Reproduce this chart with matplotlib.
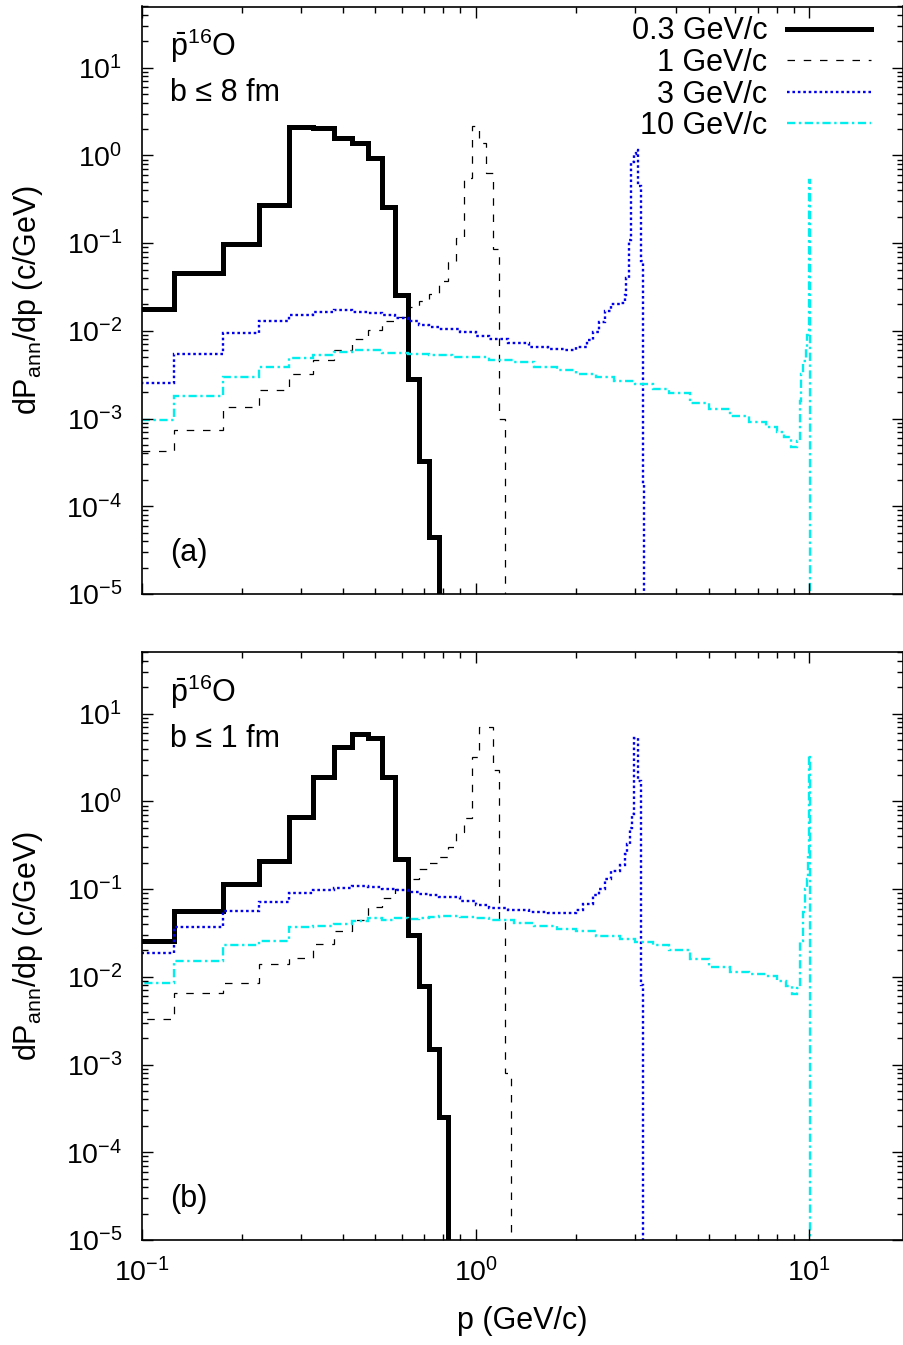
import matplotlib
matplotlib.use("Agg")
import matplotlib.pyplot as plt
from matplotlib.ticker import LogLocator, LogFormatterSciNotation, NullFormatter

plt.rcParams['font.family'] = ['Liberation Sans', 'DejaVu Sans']
plt.rcParams['mathtext.fontset'] = 'custom'
plt.rcParams['mathtext.rm'] = 'Liberation Sans'
plt.rcParams['mathtext.it'] = 'Liberation Sans:italic'
plt.rcParams['mathtext.bf'] = 'Liberation Sans:bold'
plt.rcParams['axes.unicode_minus'] = False

# bin edges (GeV/c), 0.05 wide at low p
edges_fine = [0.075, 0.125, 0.175, 0.225, 0.275, 0.325, 0.375, 0.425, 0.475,
              0.525, 0.575, 0.625, 0.675, 0.725, 0.775, 0.825, 0.875, 0.925,
              0.975, 1.025, 1.075, 1.125, 1.175, 1.225, 1.275]

# ---- panel (a): b <= 8 fm ----
a_p03 = [0.018, 0.046, 0.098, 0.27, 2.1, 2.05, 1.6, 1.4, 0.93, 0.26,
         0.026, 0.0028, 3.3e-4, 4.5e-5]
a_p1 = [4.3e-4, 7.5e-4, 1.37e-3, 2.1e-3, 3.2e-3, 4.6e-3, 6.0e-3, 8.1e-3,
        0.0103, 0.0128, 0.0144, 0.0185, 0.022, 0.0265, 0.037, 0.061, 0.115,
        0.56, 2.15, 1.4, 0.63, 0.085, 1.0e-3]
a_p3_low = [2.58e-3, 5.5e-3, 9.4e-3, 0.0128, 0.015, 0.0166, 0.0172, 0.0166,
            0.0159, 0.0152, 0.0142, 0.013, 0.0117, 0.0112]
a_p3_hi_edges = [0.9, 1.0, 1.1, 1.25, 1.45, 1.65, 1.85, 2.0, 2.15, 2.25, 2.35,
                 2.45, 2.55, 2.7, 2.8, 2.825, 2.875, 2.925, 2.975, 3.025,
                 3.075, 3.125, 3.175, 3.2]
a_p3_hi = [0.0105, 9.6e-3, 8.8e-3, 8.0e-3, 7.3e-3, 6.6e-3, 6.2e-3, 6.1e-3,
           6.5e-3, 7.9e-3, 9.8e-3, 0.0125, 0.017, 0.020, 0.021, 0.026, 0.040,
           0.11, 0.85, 1.05, 1.16, 0.45, 0.062, 1.8e-4]
a_p10_low = [9.7e-4, 1.82e-3, 2.96e-3, 3.92e-3, 4.88e-3, 5.3e-3, 5.7e-3,
             6.0e-3, 6.0e-3, 5.6e-3, 5.6e-3, 5.5e-3, 5.4e-3, 5.35e-3]
a_p10_hi_edges = [0.85, 0.95, 1.1, 1.3, 1.5, 1.75, 2.0, 2.3, 2.6, 3.0, 3.4,
                  3.8, 4.4, 5.0, 5.8, 6.6, 7.4, 8.0, 8.4, 8.8, 9.2, 9.35,
                  9.45, 9.6, 9.75, 9.875, 9.975, 10.025]
a_p10_hi = [5.3e-3, 5.1e-3, 5.0e-3, 4.7e-3, 4.4e-3, 3.9e-3, 3.6e-3, 3.2e-3,
            3.0e-3, 2.7e-3, 2.45e-3, 2.2e-3, 1.95e-3, 1.5e-3, 1.3e-3,
            1.08e-3, 9.2e-4, 8.0e-4, 7.1e-4, 6.2e-4, 4.8e-4, 5.5e-4, 1.6e-3,
            3.2e-3, 4.5e-3, 6.3e-3, 9.0e-3, 0.53]

# ---- panel (b): b <= 1 fm ----
b_p03 = [0.0255, 0.056, 0.115, 0.21, 0.67, 1.88, 4.2, 5.9, 5.3, 1.88,
         0.22, 0.030, 7.9e-3, 1.5e-3, 2.5e-4]
b_p1 = [3.3e-3, 6.5e-3, 8.6e-3, 0.0142, 0.0165, 0.024, 0.033, 0.045, 0.062,
        0.08, 0.1, 0.13, 0.17, 0.2, 0.23, 0.3, 0.45, 0.64, 3.2, 7.0, 7.0,
        2.3, 0.045, 8e-4]
b_p3_low = [0.0187, 0.037, 0.057, 0.072, 0.09, 0.098, 0.103, 0.108, 0.106,
            0.101, 0.098, 0.093, 0.088, 0.086]
b_p3_hi_edges = [0.9, 1.0, 1.1, 1.25, 1.45, 1.65, 1.85, 2.0, 2.1, 2.25, 2.35,
                 2.45, 2.55, 2.7, 2.8, 2.85, 2.9, 2.95, 2.975, 3.025, 3.075,
                 3.125, 3.175]
b_p3_hi = [0.082, 0.074, 0.066, 0.061, 0.058, 0.055, 0.053, 0.054, 0.058,
           0.068, 0.085, 0.10, 0.13, 0.16, 0.19, 0.25, 0.33, 0.5, 0.72, 5.3,
           5.3, 1.7, 8e-3]
b_p10_low = [8.6e-3, 0.0152, 0.023, 0.0255, 0.0366, 0.0385, 0.04, 0.043,
             0.047, 0.044, 0.047, 0.046, 0.047, 0.048]
b_p10_hi_edges = [0.9, 1.0, 1.1, 1.3, 1.5, 1.75, 2.0, 2.3, 2.7, 3.0, 3.4,
                  3.8, 4.4, 5.0, 5.8, 6.6, 7.4, 8.0, 8.5, 8.9, 9.2, 9.4,
                  9.55, 9.7, 9.825, 9.9, 9.975, 10.025]
b_p10_hi = [0.049, 0.048, 0.047, 0.045, 0.041, 0.038, 0.035, 0.033, 0.029,
            0.027, 0.025, 0.023, 0.020, 0.016, 0.013, 0.0115, 0.0108, 0.0102,
            9.0e-3, 7.8e-3, 6.3e-3, 7.5e-3, 0.026, 0.055, 0.1, 0.13, 0.25,
            3.4]

labels = ['0.3 GeV/c', '1 GeV/c', '3 GeV/c', '10 GeV/c']
FLOOR = 1e-9  # histogram drops to zero off the plot
FS = 22

fig = plt.figure(figsize=(9.04, 13.45), dpi=100)
W, H = 904.0, 1345.0
ax_a = fig.add_axes([142 / W, (H - 594) / H, 761 / W, 587.5 / H])
ax_b = fig.add_axes([142 / W, (H - 1240) / H, 761 / W, 587.5 / H])


def draw_panel(ax, v03, v1, v3_low, e3_hi, v3_hi, v10_low, e10_hi, v10_hi):
    h = []
    h.append(ax.stairs(v03, edges_fine[:len(v03) + 1], baseline=FLOOR,
                       color='black', lw=3.6))
    h.append(ax.stairs(v1, edges_fine[:len(v1) + 1], baseline=FLOOR,
                       color='black', lw=0.9, linestyle=(0, (6, 7))))
    h.append(ax.stairs(v3_low + v3_hi, edges_fine[:15] + e3_hi, baseline=FLOOR,
                       color='#0000ee', lw=1.7, linestyle=(0, (1.1, 1.2))))
    h.append(ax.stairs(v10_low + v10_hi, edges_fine[:15] + e10_hi,
                       baseline=FLOOR, color='#00eeee', lw=1.7,
                       linestyle=(0, (3.5, 1.5, 1, 1.5))))

    ax.set_xscale('log')
    ax.set_yscale('log')
    ax.set_xlim(0.1, 19.1)
    ax.set_ylim(1e-5, 50)
    ax.xaxis.set_major_locator(LogLocator(base=10, numticks=10))
    ax.xaxis.set_minor_locator(LogLocator(base=10, subs=range(2, 10), numticks=20))
    ax.yaxis.set_major_locator(LogLocator(base=10, numticks=10))
    ax.yaxis.set_minor_locator(LogLocator(base=10, subs=range(2, 10), numticks=20))
    ax.yaxis.set_major_formatter(LogFormatterSciNotation())
    ax.xaxis.set_minor_formatter(NullFormatter())
    ax.yaxis.set_minor_formatter(NullFormatter())
    ax.tick_params(which='both', direction='in', top=True, right=True,
                   labelsize=20.5, width=1)
    ax.tick_params(which='major', length=8)
    ax.tick_params(which='minor', length=4)
    ax.tick_params(axis='y', pad=14)
    ax.tick_params(axis='x', pad=13)
    for s in ax.spines.values():
        s.set_linewidth(1.2)
    ax.set_ylabel('dP$_{\\rm ann}$/dp (c/GeV)', fontsize=FS)
    ax.yaxis.set_label_coords(-0.128, 0.5)
    return h


h = draw_panel(ax_a, a_p03, a_p1, a_p3_low, a_p3_hi_edges, a_p3_hi,
               a_p10_low, a_p10_hi_edges, a_p10_hi)
draw_panel(ax_b, b_p03, b_p1, b_p3_low, b_p3_hi_edges, b_p3_hi,
           b_p10_low, b_p10_hi_edges, b_p10_hi)

ax_a.tick_params(axis='x', labelbottom=False)
ax_b.set_xlabel('p (GeV/c)', fontsize=FS)
ax_b.xaxis.set_label_coords(0.5, -0.112)

leg = ax_a.legend(h, labels, loc='upper right', bbox_to_anchor=(0.958, 0.983),
                  frameon=False, markerfirst=False, fontsize=FS,
                  handlelength=2.75, handletextpad=0.65, labelspacing=0.05,
                  borderpad=0, borderaxespad=0)
for col in leg._legend_handle_box.get_children():
    col.align = 'right'

for ax, btxt, ptxt in [(ax_a, 'b \u2264 8 fm', '(a)'),
                       (ax_b, 'b \u2264 1 fm', '(b)')]:
    ax.text(0.037, 0.933, r'$\bar{\rm p}^{16}$O', transform=ax.transAxes,
            fontsize=FS, va='center', ha='left')
    ax.text(0.037, 0.852, btxt, transform=ax.transAxes, fontsize=FS,
            va='center', ha='left')
    ax.text(0.037, 0.07, ptxt, transform=ax.transAxes, fontsize=FS,
            va='center', ha='left')

fig.savefig('out.png', dpi=100)
